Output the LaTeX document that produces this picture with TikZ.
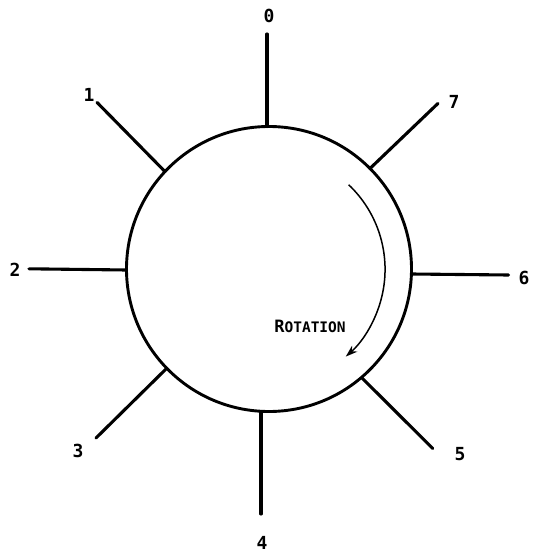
\documentclass[tikz,border=0pt]{standalone}
\usepackage{fontspec}
\setmainfont{DejaVu Sans Mono}
\usetikzlibrary{arrows.meta}
\begin{document}
\begin{tikzpicture}[x=1pt,y=-1pt,
  spoke/.style={line width=3.1pt,line cap=round},
  lbl/.style={font=\bfseries\fontsize{18}{18}\selectfont,inner sep=0pt},
  rim/.style={line width=2.9pt}]
\useasboundingbox (0,0) rectangle (533,554);
% wheel
\node[rim,draw,circle,minimum size=285pt,inner sep=0pt] (C) at (269,269) {};
% spoke ends on the rim
\coordinate (i0) at (267,126.6);
\coordinate (i1) at (165,171.6);
\coordinate (i2) at (126.5,270);
\coordinate (i3) at (166,369);
\coordinate (i4) at (261,411.5);
\coordinate (i5) at (362,378);
\coordinate (i6) at (411.5,274);
\coordinate (i7) at (370,168.5);
% outer ends
\coordinate (o0) at (267,34);
\coordinate (o1) at (97,102.4);
\coordinate (o2) at (29,268.8);
\coordinate (o3) at (96,438);
\coordinate (o4) at (261,514);
\coordinate (o5) at (432.7,448.4);
\coordinate (o6) at (508.5,275);
\coordinate (o7) at (438,103.4);
\foreach \k in {0,...,7} \draw[spoke] (i\k) -- (o\k);
% labels
\node[lbl] (l0) at (269,15.5) {0};
\node[lbl] (l1) at (89,95) {1};
\node[lbl] (l2) at (15,270) {2};
\node[lbl] (l3) at (78,451) {3};
\node[lbl] (l4) at (262,543) {4};
\node[lbl] (l5) at (460,454) {5};
\node[lbl] (l6) at (524,278) {6};
\node[lbl] (l7) at (454,102) {7};
% rotation arrow
\coordinate (ras) at (348.6,184.7);
\draw[line width=1.5pt,-{Stealth[length=12pt,width=8pt]}] (ras) arc[start angle=-46.6,end angle=48.5,radius=116.5];
\node[inner sep=0pt,font=\bfseries\fontsize{14.5}{14.5}\selectfont] (rot) at (310,326) {{\fontsize{17}{17}\selectfont R}OTATION};
\end{tikzpicture}
\end{document}
